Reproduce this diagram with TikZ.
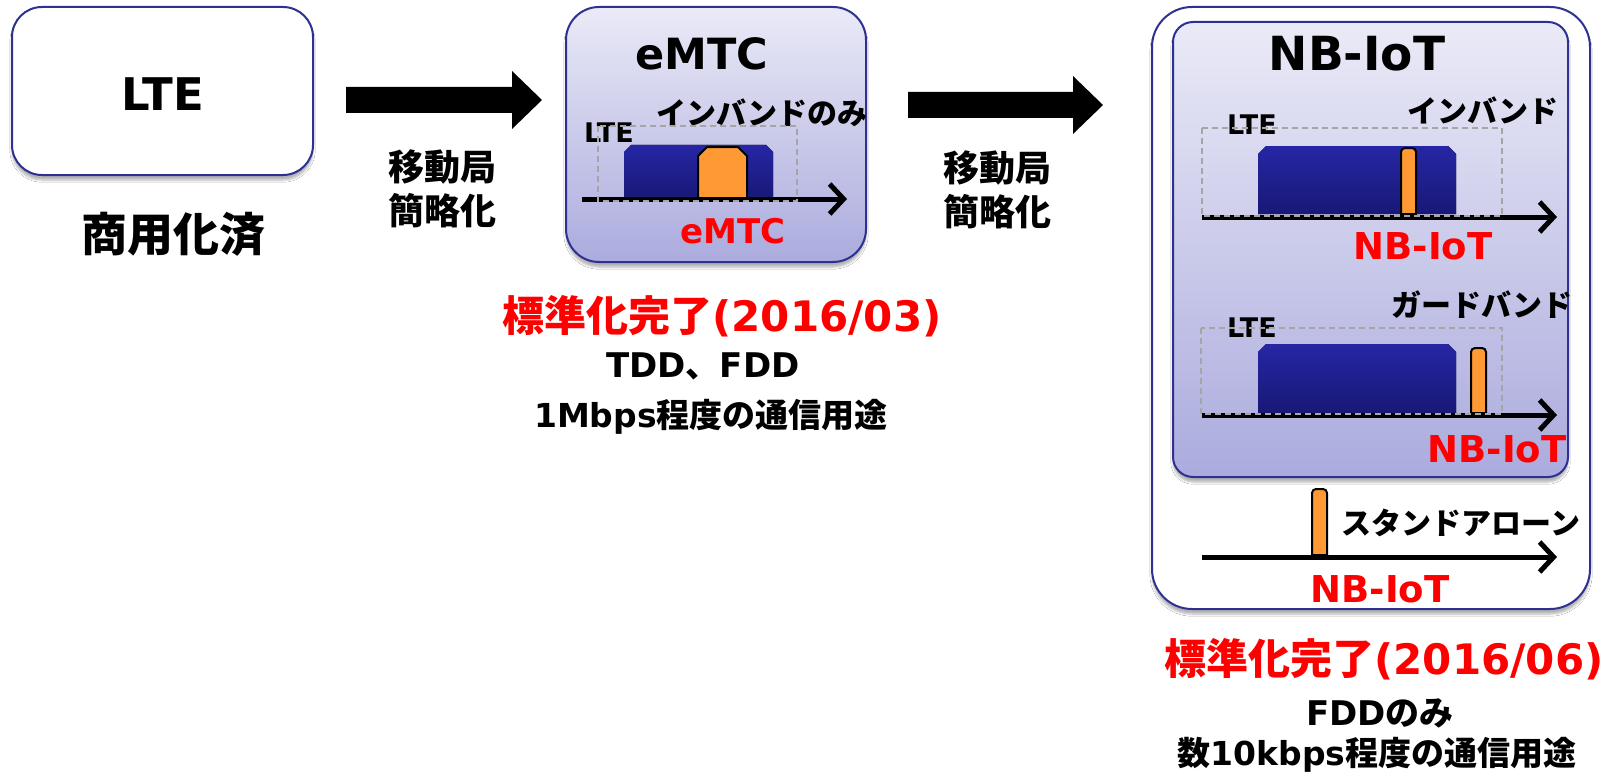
\documentclass[tikz,border=0pt]{standalone}
\usepackage{fontspec}
\setmainfont{DejaVu Sans}
\newfontfamily\jp{Noto Sans CJK JP}
\usetikzlibrary{arrows.meta,shadows.blur,calc}
\newcommand{\jtxt}[1]{{\jp #1}}
\newcommand{\fsz}[1]{\fontsize{#1}{#1}\selectfont}
\definecolor{boxline}{RGB}{46,49,146}
\definecolor{bgtop}{RGB}{234,234,247}
\definecolor{bgbot}{RGB}{171,171,222}
\definecolor{navytop}{RGB}{38,38,165}
\definecolor{navybot}{RGB}{24,24,118}
\definecolor{bandor}{RGB}{255,153,51}
\definecolor{dashgray}{RGB}{165,165,165}
\tikzset{
  box/.style={draw=boxline, line width=2pt},
  boxshadow/.style={blur shadow={shadow blur steps=6, shadow xshift=0pt, shadow yshift=-5pt, shadow opacity=30}},
  grad/.style={top color=bgtop, bottom color=bgbot},
  ltebox/.style={draw=dashgray, line width=1.6pt, dash pattern=on 6pt off 4pt},
  navy/.style={top color=navytop, bottom color=navybot, draw=none},
  band/.style={fill=bandor, draw=black, line width=2pt},
  axis/.style={line width=5pt, -{Straight Barb[length=14pt,width=30pt,line width=5pt]}},
  lbl/.style={font=\bfseries, inner sep=0pt, anchor=center},
  red/.style={text=red}
}
% block arrow between two named coordinates (horizontal)
\newcommand{\blockarrow}[2]{%
  \fill[black] ($(#1)+(0,-13)$) -- ($(#2)+(-30,-13)$) -- ($(#2)+(-30,-29)$) -- (#2)
    -- ($(#2)+(-30,29)$) -- ($(#2)+(-30,13)$) -- ($(#1)+(0,13)$) -- cycle;}
\begin{document}
\begin{tikzpicture}[x=1pt,y=-1pt]
\useasboundingbox[fill=white] (0,0) rectangle (1619,773);

% ---------- LTE ----------
\draw[box, fill=white, rounded corners=30pt, boxshadow] (12,7) rectangle (313,175);
\node[lbl] (lte) at (163,94) {\fsz{45}LTE};
\node[lbl] (comm) at (173,234) {\fsz{46}\jtxt{商用化済}};

% arrow 1
\coordinate (a1s) at (346,100);
\coordinate (a1e) at (542,100);
\blockarrow{a1s}{a1e}
\node[lbl] (m1a) at (442,167) {\fsz{36}\jtxt{移動局}};
\node[lbl] (m1b) at (442,211) {\fsz{36}\jtxt{簡略化}};

% ---------- eMTC ----------
\draw[box, grad, rounded corners=33pt, boxshadow] (566,7) rectangle (866,262);
\node[lbl] (emtct) at (702,54) {\fsz{43}eMTC};
\node[lbl] (inb) at (762,113) {\fsz{30}\jtxt{インバンドのみ}};
\node[lbl] (elte) at (609,133) {\fsz{27}LTE};
\fill[navy] (624,198) -- (624,152) -- (631,145) -- (766,145) -- (773,152) -- (773,198) -- cycle;
\draw[band] (698,198) -- (698,156) -- (707,147) -- (738,147) -- (747,156) -- (747,198) -- cycle;
\coordinate (ea0) at (582,199);
\coordinate (ea1) at (847,199);
\draw[axis] (ea0) -- (ea1);
\draw[ltebox] (598,126) rectangle (797,201);
\node[lbl, red] (emtcr) at (733,231) {\fsz{34}eMTC};

\node[lbl, red] (std1) at (722,316) {\fsz{42}\jtxt{標準化完了}(2016/03)};
\node[lbl] (tdd) at (703,366) {\fsz{34}TDD\jtxt{、}FDD};
\node[lbl] (mbps) at (711,417) {\fsz{33}1Mbps\jtxt{程度の通信用途}};

% arrow 2
\coordinate (a2s) at (908,105);
\coordinate (a2e) at (1103,105);
\blockarrow{a2s}{a2e}
\node[lbl] (m2a) at (997,168) {\fsz{36}\jtxt{移動局}};
\node[lbl] (m2b) at (997,212) {\fsz{36}\jtxt{簡略化}};

% ---------- NB-IoT ----------
\draw[box, fill=white, rounded corners=40pt, boxshadow] (1152,7) rectangle (1590,609);
\draw[box, grad, rounded corners=20pt, boxshadow] (1173,22) rectangle (1568,477);
\node[lbl] (nbt) at (1357,54) {\fsz{47}NB-IoT};

% in-band
\node[lbl] (inb2) at (1483,111) {\fsz{30}\jtxt{インバンド}};
\node[lbl] (nlte1) at (1252,125) {\fsz{27}LTE};
\fill[navy] (1258,214) -- (1258,154) -- (1266,146) -- (1448,146) -- (1456,154) -- (1456,214) -- cycle;
\draw[band] (1401,214) [rounded corners=4pt] -- (1401,148) -- (1416,148) [sharp corners] -- (1416,214) -- cycle;
\coordinate (n1a) at (1202,217);
\coordinate (n1b) at (1557,217);
\draw[axis] (n1a) -- (n1b);
\draw[ltebox] (1202,128) rectangle (1502,216);
\node[lbl, red] (nbr1) at (1423,246) {\fsz{37}NB-IoT};

% guard band
\node[lbl] (gb) at (1482,305) {\fsz{30}\jtxt{ガードバンド}};
\node[lbl] (nlte2) at (1252,328) {\fsz{27}LTE};
\fill[navy] (1258,413) -- (1258,352) -- (1266,344) -- (1448,344) -- (1456,352) -- (1456,413) -- cycle;
\draw[band] (1471,413) [rounded corners=4pt] -- (1471,348) -- (1486,348) [sharp corners] -- (1486,413) -- cycle;
\coordinate (n2a) at (1202,415);
\coordinate (n2b) at (1557,415);
\draw[axis] (n2a) -- (n2b);
\draw[ltebox] (1201,328) rectangle (1502,414);
\node[lbl, red] (nbr2) at (1497,449) {\fsz{37}NB-IoT};

% standalone
\draw[band] (1312,555) [rounded corners=4pt] -- (1312,489) -- (1327,489) [sharp corners] -- (1327,555) -- cycle;
\coordinate (n3a) at (1202,557);
\coordinate (n3b) at (1557,557);
\draw[axis] (n3a) -- (n3b);
\node[lbl] (sa) at (1461,523) {\fsz{30}\jtxt{スタンドアローン}};
\node[lbl, red] (nbr3) at (1380,589) {\fsz{37}NB-IoT};

\node[lbl, red] (std2) at (1384,659) {\fsz{42}\jtxt{標準化完了}(2016/06)};
\node[lbl] (fdd) at (1380,713) {\fsz{34}FDD\jtxt{のみ}};
\node[lbl] (kbps) at (1377,755) {\fsz{33}\jtxt{数}10kbps\jtxt{程度の通信用途}};
\end{tikzpicture}
\end{document}
